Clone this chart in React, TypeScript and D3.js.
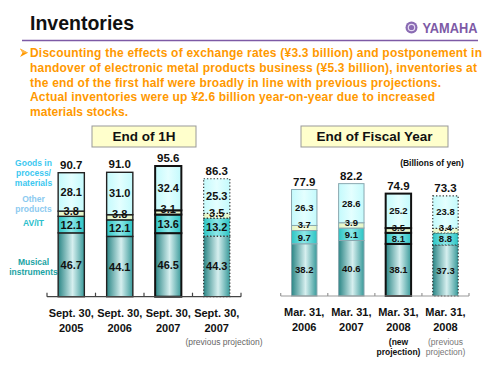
import React from "react";
import * as d3 from "d3";

// ---------- data ----------
const bulletLines = [
  "Discounting the effects of exchange rates (¥3.3 billion) and postponement in",
  "handover of electronic metal products business (¥5.3 billion), inventories at",
  "the end of the first half were broadly in line with previous projections.",
  "Actual inventories were up ¥2.6 billion year-on-year due to increased",
  "materials stocks.",
];
const bulletWidths = [452, 447, 411, 405, 98];

const seriesNames = ["Musical instruments", "AV/IT", "Other products", "Goods in process/ materials"];

const fhCategories = ["Sept. 30, 2005", "Sept. 30, 2006", "Sept. 30, 2007", "Sept. 30, 2007 (prev)"];
const fhMusical = [46.7, 44.1, 46.5, 44.3];
const fhAvit = [12.1, 12.1, 13.6, 13.2];
const fhOther = [3.8, 3.8, 3.1, 3.5];
const fhGoods = [28.1, 31.0, 32.4, 25.3];
const fhTotals = [90.7, 91.0, 95.6, 86.3];

const fyCategories = ["Mar. 31, 2006", "Mar. 31, 2007", "Mar. 31, 2008", "Mar. 31, 2008 (prev)"];
const fyMusical = [38.2, 40.6, 38.1, 37.3];
const fyAvit = [9.7, 9.1, 8.1, 8.8];
const fyOther = [3.7, 3.9, 3.5, 3.4];
const fyGoods = [26.3, 28.6, 25.2, 23.8];
const fyTotals = [77.9, 82.2, 74.9, 73.3];

const fhStyles = ["solid", "solid", "bold", "dotted"];
const fyStyles = ["light", "light", "bold", "dotted"];

const FONT = "Liberation Sans, Arial, Helvetica, sans-serif";
const keys = ["musical", "avit", "other", "goods"];
const fills = ["url(#gMus)", "url(#gAv)", "url(#gOther)", "url(#gGoods)"];

function strokeFor(style: string) {
  if (style === "bold") return { stroke: "#111", strokeWidth: 2, dash: undefined as string | undefined };
  if (style === "dotted") return { stroke: "#333", strokeWidth: 1.2, dash: "1.3,2" };
  if (style === "light") return { stroke: "#8aa8b0", strokeWidth: 1, dash: undefined };
  return { stroke: "#222", strokeWidth: 1.4, dash: undefined };
}

type PanelProps = {
  cats: string[];
  mus: number[];
  av: number[];
  oth: number[];
  goods: number[];
  totals: number[];
  styles: string[];
  x0: number;
  x1: number;
  base: number;
  segFont: number;
  axisColor: string;
  tickLen: number;
};

function Panel(p: PanelProps) {
  const table = p.cats.map((c, i) => ({
    cat: c,
    musical: p.mus[i],
    avit: p.av[i],
    other: p.oth[i],
    goods: p.goods[i],
  }));
  const x = d3.scaleBand<string>().domain(p.cats).range([p.x0, p.x1]).paddingInner(0.46).paddingOuter(0.23);
  const y = d3.scaleLinear().domain([0, 100]).range([p.base, p.base - 136.7]);
  const stacked = d3.stack<any>().keys(keys)(table);
  const bw = x.bandwidth();
  const step = x.step();
  const ticks = d3.range(p.cats.length + 1).map((i) => p.x0 + i * step);
  return (
    <g>
      {stacked.map((layer, li) =>
        layer.map((d, i) => {
          const st = strokeFor(p.styles[i]);
          const xx = x(p.cats[i]) as number;
          return (
            <rect
              key={`${li}-${i}`}
              x={xx}
              y={y(d[1])}
              width={bw}
              height={y(d[0]) - y(d[1])}
              fill={fills[li]}
              stroke={st.stroke}
              strokeWidth={st.strokeWidth}
              strokeDasharray={st.dash}
            />
          );
        })
      )}
      {stacked.map((layer, li) =>
        layer.map((d, i) => {
          const xx = (x(p.cats[i]) as number) + bw / 2;
          const cy = (y(d[0]) + y(d[1])) / 2 + (li === 2 ? -3 : 0);
          return (
            <text
              key={`t${li}-${i}`}
              x={xx}
              y={cy}
              dy="0.36em"
              textAnchor="middle"
              fontFamily={FONT}
              fontWeight="bold"
              fontSize={p.segFont}
              fill="#111"
            >
              {(d[1] - d[0]).toFixed(1)}
            </text>
          );
        })
      )}
      {p.totals.map((t, i) => (
        <text
          key={`tot${i}`}
          x={(x(p.cats[i]) as number) + bw / 2}
          y={y(t) - 4}
          textAnchor="middle"
          fontFamily={FONT}
          fontWeight="bold"
          fontSize={11.5}
          fill="#111"
        >
          {t.toFixed(1)}
        </text>
      ))}
      <line x1={p.x0} x2={p.x1} y1={p.base} y2={p.base} stroke={p.axisColor} strokeWidth={1.2} />
      {ticks.map((tx, i) => (
        <line key={`tk${i}`} x1={tx} x2={tx} y1={p.base} y2={p.base - p.tickLen} stroke={p.axisColor} strokeWidth={1.2} />
      ))}
      {p.cats.map((c, i) => {
        const parts = c.replace(" (prev)", "").split(", ");
        const cx = (x(c) as number) + bw / 2;
        return (
          <text key={`c${i}`} x={cx} textAnchor="middle" fontFamily={FONT} fontWeight="bold" fontSize={11} fill="#111">
            <tspan x={cx} y={p.base + 20}>{parts[0] + ","}</tspan>
            <tspan x={cx} y={p.base + 35}>{parts[1]}</tspan>
          </text>
        );
      })}
    </g>
  );
}

export default function App() {
  return (
    <svg
      width={500}
      height={375}
      viewBox="0 0 500 375"
      style={{ position: "absolute", left: 0, top: 0, display: "block", background: "#fff" }}
    >
      <defs>
        <linearGradient id="gMus" x1="0" x2="1" y1="0" y2="0">
          <stop offset="0%" stopColor="#2b8686" />
          <stop offset="55%" stopColor="#d6efef" />
          <stop offset="100%" stopColor="#399a9a" />
        </linearGradient>
        <linearGradient id="gAv" x1="0" x2="1" y1="0" y2="0">
          <stop offset="0%" stopColor="#2cc4c4" />
          <stop offset="50%" stopColor="#8ee8e8" />
          <stop offset="100%" stopColor="#2cc4c4" />
        </linearGradient>
        <linearGradient id="gGoods" x1="0" x2="1" y1="0" y2="0">
          <stop offset="0%" stopColor="#c4fafc" />
          <stop offset="50%" stopColor="#e4ffff" />
          <stop offset="100%" stopColor="#c4fafc" />
        </linearGradient>
        <linearGradient id="gOther" x1="0" x2="1" y1="0" y2="0">
          <stop offset="0%" stopColor="#e2f5c4" />
          <stop offset="50%" stopColor="#f6ffe6" />
          <stop offset="100%" stopColor="#e2f5c4" />
        </linearGradient>
      </defs>

      {/* header */}
      <text x={30} y={30} fontFamily={FONT} fontWeight="bold" fontSize={19.5} fill="#111">
        Inventories
      </text>
      <line x1={22} x2={478} y1={40.5} y2={40.5} stroke="#7d5aa6" strokeWidth={1.6} />
      <circle cx={411.5} cy={27.5} r={6} fill="#8a6bb3" />
      <circle cx={411.5} cy={27.5} r={3.2} fill="none" stroke="#e6dcf2" strokeWidth={1.2} />
      <text x={422.5} y={33} fontFamily={FONT} fontWeight="bold" fontSize={14} fill="#7d5aa6" textLength={55} lengthAdjust="spacingAndGlyphs">
        YAMAHA
      </text>

      {/* bullet arrowhead */}
      <path d="M20,48.5 L28,52.7 L20,56.9 L22.5,52.7 Z" fill="#ff9900" />
      <path d="M20,48.5 L28,52.7 L22.5,52.7 Z" fill="#ffb84d" />
      {bulletLines.map((l, i) => (
        <text
          key={i}
          x={30}
          y={57 + i * 14.8}
          fontFamily={FONT}
          fontWeight="bold"
          fontSize={12}
          fill="#ff9900"
          textLength={bulletWidths[i]}
          lengthAdjust="spacing"
        >
          {l}
        </text>
      ))}

      {/* section boxes */}
      <rect x={92} y={126} width={104} height={21} fill="#ffffcc" stroke="#999" strokeWidth={1} />
      <text x={144} y={141} textAnchor="middle" fontFamily={FONT} fontWeight="bold" fontSize={13.5} fill="#111">
        End of 1H
      </text>
      <rect x={301} y={126} width={147} height={21} fill="#ffffcc" stroke="#999" strokeWidth={1} />
      <text x={374.5} y={141} textAnchor="middle" fontFamily={FONT} fontWeight="bold" fontSize={13.5} fill="#111">
        End of Fiscal Year
      </text>
      <text x={432} y={166} textAnchor="middle" fontFamily={FONT} fontWeight="bold" fontSize={8.5} fill="#111">
        (Billions of yen)
      </text>

      {/* legend labels */}
      <g fontFamily={FONT} fontWeight="bold" fontSize={8.5} textAnchor="middle">
        <text x={33.5} y={166} fill="#3cc8f0">Goods in</text>
        <text x={33.5} y={176} fill="#3cc8f0">process/</text>
        <text x={33.5} y={186} fill="#3cc8f0">materials</text>
        <text x={33.5} y={202} fill="#8ccaf0">Other</text>
        <text x={33.5} y={212} fill="#8ccaf0">products</text>
        <text x={33.5} y={226} fill="#2cc0cc">AV/IT</text>
        <text x={33.5} y={265} fill="#1aa3a3">Musical</text>
        <text x={33.5} y={275} fill="#1aa3a3">instruments</text>
      </g>

      <Panel
        cats={fhCategories}
        mus={fhMusical}
        av={fhAvit}
        oth={fhOther}
        goods={fhGoods}
        totals={fhTotals}
        styles={fhStyles}
        x0={47}
        x1={241}
        base={296.7}
        segFont={11}
        axisColor="#444"
        tickLen={4}
      />
      <Panel
        cats={fyCategories}
        mus={fyMusical}
        av={fyAvit}
        oth={fyOther}
        goods={fyGoods}
        totals={fyTotals}
        styles={fyStyles}
        x0={280.7}
        x1={469}
        base={296}
        segFont={9.5}
        axisColor="#999"
        tickLen={3}
      />

      {/* notes */}
      <text x={224} y={344.5} textAnchor="middle" fontFamily={FONT} fontSize={8.5} fill="#666">
        (previous projection)
      </text>
      <text x={398.5} y={344.5} textAnchor="middle" fontFamily={FONT} fontWeight="bold" fontSize={8.5} fill="#111">
        (new
      </text>
      <text x={398.5} y={354.5} textAnchor="middle" fontFamily={FONT} fontWeight="bold" fontSize={8.5} fill="#111">
        projection)
      </text>
      <text x={445.5} y={344.5} textAnchor="middle" fontFamily={FONT} fontSize={8.5} fill="#777">
        (previous
      </text>
      <text x={445.5} y={354.5} textAnchor="middle" fontFamily={FONT} fontSize={8.5} fill="#777">
        projection)
      </text>
    </svg>
  );
}
